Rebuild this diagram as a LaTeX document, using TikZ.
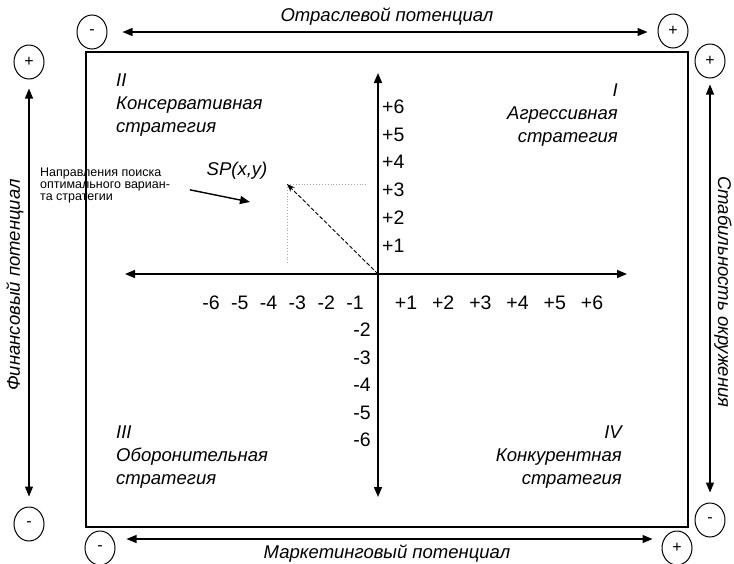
\documentclass[tikz,border=0pt]{standalone}
\usepackage{fontspec}
\setmainfont{Liberation Sans}
\usetikzlibrary{positioning,arrows.meta,shapes.geometric}

\begin{document}
\begin{tikzpicture}[
    x=1pt, y=-1pt,
    sign/.style={draw, ellipse, line width=1pt, minimum width=30pt, minimum height=34pt, inner sep=0pt, font=\fontsize{16}{16}\selectfont},
    lbl/.style={inner sep=0pt, font=\fontsize{18.5}{22}\selectfont\itshape},
    quad/.style={inner sep=0pt, align=left, font=\fontsize{18.5}{23}\selectfont\itshape},
    tick/.style={inner sep=0pt, font=\fontsize{19.5}{20}\selectfont},
    note/.style={inner sep=0pt, align=left, font=\fontsize{12.5}{12}\selectfont},
    dbl/.style={{Triangle[length=10pt,width=8pt]}-{Triangle[length=10pt,width=8pt]}, line width=1.1pt},
    axis/.style={dbl, line width=1.5pt},
    arr/.style={-{Triangle[length=10pt,width=8pt]}, line width=1.4pt},
    darr/.style={-{Stealth[length=8pt,width=6pt]}, line width=0.9pt, dash pattern=on 4pt off 2pt},
    guide/.style={gray!70, line width=0.9pt, dotted}
]
\useasboundingbox[fill=white] (0,0) rectangle (734,563);

% field
\draw[line width=1.3pt] (86,52) rectangle (688,527);

% outer scales
\node[sign] (topMinus) at (92,32) {-};
\node[sign] (topPlus) at (673,31) {+};
\node[lbl] (topLabel) at (387,17) {Отраслевой потенциал};
\draw[dbl, shorten <=15pt, shorten >=10pt] (topMinus.east) -- (topPlus.west |- topMinus.east);

\node[sign] (leftPlus) at (29,62) {+};
\node[sign] (leftMinus) at (29,524) {-};
\node[lbl, rotate=90] (finLabel) at (15,285) {Финансовый потенциал};
\draw[dbl, shorten <=9pt, shorten >=10pt] (leftPlus) -- (leftMinus);

\node[sign] (rightPlus) at (710,61) {+};
\node[sign] (rightMinus) at (710,520) {-};
\node[lbl, rotate=-90] (stabLabel) at (723,292) {Стабильность окружения};
\draw[dbl, shorten <=6pt, shorten >=10pt] (rightPlus) -- (rightMinus);

\node[sign] (botMinus) at (100,548) {-};
\node[sign] (botPlus) at (677,548) {+};
\node[lbl] (botLabel) at (387,554) {Маркетинговый потенциал};
\draw[dbl, shorten <=11pt, shorten >=9pt] ([yshift=9pt]botMinus.east) -- ([yshift=9pt]botPlus.west);

% axes
\coordinate (O) at (378,274);
\coordinate (xL) at (125,274);
\coordinate (xR) at (627,274);
\coordinate (yT) at (378,73);
\coordinate (yB) at (378,497);
\draw[axis] (xL) -- (xR);
\draw[axis] (yB) -- (yT);

\foreach \k in {1,...,6} {
  \node[tick, anchor=west] (yp\k) at (382,{273-27.7*\k}) {+\k};
  \node[tick] (xp\k) at ({406+37.2*(\k-1)},303) {+\k};
  \node[tick] (xn\k) at ({355-28.8*(\k-1)},303) {-\k};
}
\foreach \k in {2,...,6}
  \node[tick, anchor=east] (yn\k) at (371,{302.5+27.5*(\k-1)}) {-\k};

% quadrants
\node[quad, anchor=north west] (qII) at (116,74) {II\\Консервативная\\стратегия};
\node[quad, anchor=north east, align=right] (qI) at (618,84) {I\\Агрессивная\\стратегия};
\node[quad, anchor=north west] (qIII) at (116,426) {III\\Оборонительная\\стратегия};
\node[quad, anchor=north east, align=right] (qIV) at (622,426) {IV\\Конкурентная\\стратегия};

% strategic position
\coordinate (SP) at (287,184);
\coordinate (SPx) at (367,184);
\coordinate (SPy) at (287,265);
\draw[guide] (SP) -- (SPx);
\draw[guide] (SP) -- (SPy);
\draw[darr] (O) -- (SP);
\node[lbl] (spLabel) at (237,171) {SP(x,y)};

\node[note, anchor=north west] (dirText) at (40,168) {Направления поиска\\оптимального вариан-\\та стратегии};
\coordinate (dirEnd) at (250,202);
\draw[arr, shorten <=20pt] (dirText.east) -- (dirEnd);
\end{tikzpicture}
\end{document}
